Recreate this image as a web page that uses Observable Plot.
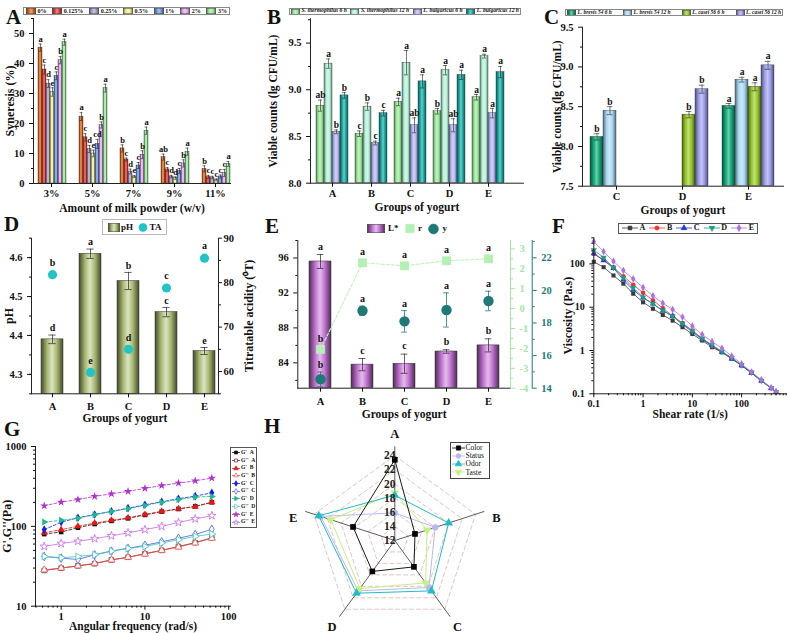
<!DOCTYPE html>
<html><head><meta charset="utf-8">
<script src="https://cdn.jsdelivr.net/npm/d3@7"></script>
<script src="https://cdn.jsdelivr.net/npm/@observablehq/plot@0.6"></script>
<style>
html,body{margin:0;padding:0;background:#fff;}
#page{position:relative;width:788px;height:633px;overflow:hidden;background:#fff;font-family:"Liberation Serif","Times New Roman",serif;color:#111;}
.plabel{position:absolute;font-weight:bold;font-size:21px;line-height:21px;font-family:"Liberation Serif","Times New Roman",serif;}
.lg{position:absolute;display:flex;align-items:center;box-sizing:border-box;white-space:nowrap;font-family:"Liberation Serif","Times New Roman",serif;font-weight:bold;color:#111;}
.lg .it{display:flex;align-items:center;}
</style></head><body><div id="page"></div>
<script>
// ================= DATA =================
// Panel A – syneresis
const aGroups = ["3%","5%","7%","9%","11%"];
const aSeries = ["0%","0.125%","0.25%","0.5%","1%","2%","3%"];
const aValues = [
  [45.3,38.0,33.3,30.5,35.9,41.1,47.1],
  [22.3,15.4,11.5,10.0,13.2,19.5,31.8],
  [11.7,8.0,4.0,2.3,6.0,9.6,17.6],
  [8.8,4.7,2.3,1.8,4.2,6.7,10.6],
  [4.9,2.2,2.0,1.2,2.3,3.5,6.5]];
const aErrors = [
  [1.2,1.5,1.3,1.4,1.3,1.2,1.0],
  [1.3,1.2,1.2,1.1,1.5,1.0,1.3],
  [1.2,0.5,0.8,0.3,1.0,1.3,1.2],
  [1.0,0.6,0.4,0.4,0.8,1.2,1.2],
  [1.0,0.5,0.4,0.3,0.5,1.2,0.8]];
const aLetters = [
  ["a","c","d","e","c","b","a"],
  ["a","c","d","e","cd","b","a"],
  ["b","c","d","e","c","b","a"],
  ["ab","c","d","d","c","b","a"],
  ["b","c","c","c","c","c","a"]];
const aTicks = [0,10,20,30,40,50];

// Panel B – viable counts
const bGroups = ["A","B","C","D","E"];
const bSeries = ["S. thermophilus 6 h","S. thermophilus 12 h","L. bulgaricus 6 h","L. bulgaricus 12 h"];
const bValues = [[8.83,9.28,8.55,8.94],[8.53,8.82,8.43,8.75],[8.87,9.29,8.62,9.09],[8.77,9.21,8.62,9.16],[8.92,9.36,8.75,9.19]];
const bErrors = [[0.06,0.05,0.02,0.03],[0.03,0.04,0.02,0.03],[0.04,0.13,0.08,0.07],[0.03,0.05,0.07,0.05],[0.03,0.02,0.05,0.06]];
const bLetters = [["ab","a","b","b"],["c","b","c","c"],["a","a","ab","a"],["b","a","ab","a"],["a","a","a","a"]];
const bTicks = [8.0,8.5,9.0,9.5];

// Panel C – viable counts of probiotics
const cGroups = ["C","D","E"];
const cSeries = ["L. brevis 54 6 h","L. brevis 54 12 h","L. casei 56 6 h","L. casei 56 12 h"];
const cValues = [[8.12,8.45,null,null],[null,null,8.40,8.72],[8.51,8.84,8.75,9.02]];
const cErrors = [[0.04,0.05,0,0],[0,0,0.04,0.05],[0.03,0.03,0.05,0.05]];
const cLetters = [["b","b","",""],["","","b","b"],["a","a","a","a"]];
const cTicks = [7.5,8.0,8.5,9.0,9.5];

// Panel D – pH and TA
const dGroups = ["A","B","C","D","E"];
const dPH = [4.39,4.61,4.54,4.46,4.36];
const dPHErr = [0.011,0.012,0.022,0.012,0.009];
const dPHLetters = ["d","a","b","c","e"];
const dTA = [81.8,59.8,65.0,78.8,85.5];
const dTALetters = ["b","e","d","c","a"];
const dTicksPH = [4.3,4.4,4.5,4.6];
const dTicksTA = [60,70,80,90];

// Panel E – colour L*, r, y
const eGroups = ["A","B","C","D","E"];
const eL = [95.6,83.8,83.9,85.3,86.0];
const eLErr = [0.8,0.7,1.1,0.2,0.75];
const eLLetters = ["a","c","c","b","b"];
const eR = [-2.05,2.3,2.15,2.4,2.5];
const eRLetters = ["b","a","a","a","a"];
const eY = [14.55,18.75,18.1,18.8,19.35];
const eYErr = [0.44,0.28,0.66,1.05,0.6];
const eYLetters = ["b","a","a","a","a"];
const eTicksL = [84,88,92,96];
const eTicksR = [-4,-3,-2,-1,0,1,2,3];
const eTicksY = [14,16,18,20,22];

// Panel F – viscosity vs shear rate
const fSeries = ["A","B","C","D","E"];
const fShear = [0.1,0.158,0.251,0.398,0.631,1,1.585,2.512,3.981,6.31,10,15.85,25.12,39.81,63.1,100,158.5,251.2,398.1,500];
const fA = [112,84,54,35,20.5,13,9.2,6.6,4.9,3.45,2.4,1.7,1.19,0.91,0.64,0.45,0.31,0.2,0.135,0.11];
const fB = [170,125,83,52,33,21.5,14.5,9.5,6.3,4.3,2.9,1.9,1.25,0.92,0.66,0.46,0.31,0.2,0.135,0.11];
const fC = [175,120,80,43,25,16.5,12,8.2,6.2,4.0,2.7,1.8,1.3,0.93,0.65,0.45,0.3,0.2,0.135,0.11];
const fD = [210,140,82,48,28,17,12,8.5,6.2,4.2,2.8,1.9,1.35,0.95,0.67,0.46,0.31,0.2,0.138,0.11];
const fE = [328,193,115,70,45,28.5,18.3,12.4,8.8,5.9,3.65,2.34,1.6,1.13,0.74,0.49,0.32,0.21,0.138,0.113];
const fTicks = [0.1,1,10,100];

// Panel G – G', G'' vs angular frequency
const gFreq = [0.628,1,1.585,2.512,3.981,6.283,10,15.85,25.12,39.81,62.83];
const gSeries = ["G' A","G'' A","G' B","G'' B","G' C","G'' C","G' D","G'' D","G' E","G'' E"];
const gValues = [
  [80,85,96,107,117,126,139,153,165,178,200],
  [28,30,32,34,38,41,45.5,50,56,62.5,72],
  [83,91,100,110,119,128,141,154,166,176,201],
  [28.5,30,32,34.5,38,41,45,50,55,62,71],
  [91,113,128,141,154,169,186,203,222,239,263],
  [42,40,38.5,44,49,53,58,64,71,79,92],
  [113,119,126,140,153,166,183,201,217,233,237],
  [42,40.5,42,44,49,53,56,62,68,75,80],
  [181,201,217,237,256,274,299,325,348,372,402],
  [56,61,65,70,76,83,91,100,112,124,136]];
const gTicksX = [1,10,100];
const gTicksY = [10,100,1000];

// Panel H – sensory radar
const hAxes = ["A","B","C","D","E"];
const hSeries = ["Color","Status","Odor","Taste"];
const hColor = [23.4,15.0,16.6,17.4,18.2];
const hStatus = [15.9,18.0,20.2,20.8,23.0];
const hOdor = [18.4,20.0,20.8,21.2,23.3];
const hTaste = [18.7,16.8,19.4,20.4,21.5];
const hTicks = [12,14,16,18,20,22,24];
const hGridLevels = [14,16,18,20,22,24];

// ================= HELPERS =================
const page = document.getElementById("page");
const FONT = '"Liberation Serif","Times New Roman",Times,serif';
const baseStyle = {fontFamily: FONT, fontSize: "10.5px", fontWeight: "bold", color: "#111", background: "transparent", overflow: "visible"};
const defs = [];
function gradient(id, color, dk = 0.5, lt = 0.45) {
  const dark = d3.interpolateRgb(color, "#000")(dk);
  const light = d3.interpolateRgb(color, "#fff")(lt);
  defs.push(`<linearGradient id="${id}" x1="0" x2="1" y1="0" y2="0"><stop offset="0" stop-color="${dark}"/><stop offset="0.28" stop-color="${color}"/><stop offset="0.5" stop-color="${light}"/><stop offset="0.72" stop-color="${color}"/><stop offset="1" stop-color="${dark}"/></linearGradient>`);
  return `url(#${id})`;
}
function dims(box, f) {
  return {width: box.width, height: box.height, marginLeft: f.x0 - box.left, marginRight: box.left + box.width - f.x1, marginTop: f.y0 - box.top, marginBottom: box.top + box.height - f.y1};
}
function layer(opts, box) {
  const svg = Plot.plot(opts);
  svg.style.position = "absolute";
  svg.style.left = box.left + "px";
  svg.style.top = box.top + "px";
  page.appendChild(svg);
  return svg;
}
function bandX(box, groups, c0, cN, barW) {
  const p = (cN - c0) / (groups.length - 1);
  const pi = 1 - barW / p;
  return {type: "band", domain: groups, range: [c0 - p/2 - box.left, cN + p/2 - box.left], paddingInner: pi, paddingOuter: pi/2};
}
const titleY = (t, dx, anchor = "left", size = 12) => Plot.text([t], {text: d => d, frameAnchor: anchor, textAnchor: "middle", lineAnchor: "middle", rotate: -90, dx, fontSize: size});
const titleX = (t, dy, size = 12) => Plot.text([t], {text: d => d, frameAnchor: "bottom", textAnchor: "middle", lineAnchor: "middle", dy, fontSize: size});
const minor = (lo, hi, step) => d3.range(lo, hi + step/2, step).map(v => +v.toFixed(4));
const logMinor = (lo, hi) => { const out = []; for (let e = -2; e <= 3; e++) for (let k = 2; k <= 9; k++) { const v = k * 10 ** e; if (v >= lo && v <= hi) out.push(v); } return out; };
const SYM = {square: d3.symbolSquare, circle: d3.symbolCircle, triangle: d3.symbolTriangle, diamond: d3.symbolDiamond, star: d3.symbolStar};
function icon(color, sym, {w = 14, h = 8, fill = color, dash = "", rot = 0, size = 14, line = true} = {}) {
  const p = d3.symbol(SYM[sym], size)();
  return `<svg width="${w}" height="${h}" style="display:block;overflow:visible">${line ? `<line x1="0" x2="${w}" y1="${h/2}" y2="${h/2}" stroke="${color}" stroke-width="0.8" ${dash ? `stroke-dasharray="${dash}"` : ""}/>` : ""}<path d="${p}" transform="translate(${w/2},${h/2}) rotate(${rot})" fill="${fill}" stroke="${color}" stroke-width="0.7"/></svg>`;
}
const swatch = (fill, w = 10, h = 6) => `<svg width="${w}" height="${h}" style="display:block"><rect x="0.25" y="0.25" width="${w-0.5}" height="${h-0.5}" fill="${fill}" stroke="#333" stroke-width="0.5"/></svg>`;
function legend(box, items, o = {}) {
  const div = document.createElement("div");
  div.className = "lg";
  Object.assign(div.style, {left: box.left + "px", top: box.top + "px", width: box.width + "px", height: box.height + "px",
    border: o.border ? `1px solid ${o.border}` : "none", justifyContent: o.justify || "space-between",
    flexDirection: o.direction || "row", alignItems: o.direction === "column" ? "flex-start" : "center",
    fontSize: (o.fontSize || 7) + "px", fontStyle: o.italic ? "italic" : "normal", fontWeight: o.weight || "bold",
    padding: o.pad || "0 2px", background: o.bg || "transparent"});
  for (const it of items) {
    const s = document.createElement("div");
    s.className = "it";
    s.innerHTML = it.icon + `<span style="margin-left:${o.gap ?? 1.5}px;line-height:1">${it.label}</span>`;
    div.appendChild(s);
  }
  page.appendChild(div);
}
function panelLabel(t, left, top) {
  const d = document.createElement("div");
  d.className = "plabel"; d.textContent = t;
  d.style.left = left + "px"; d.style.top = top + "px";
  page.appendChild(d);
}

// ================= GRADIENTS / COLOURS =================
const aColors = ["#e06818","#e83a3a","#aaa2c8","#f4f08a","#6a9ae6","#eaa8f2","#98ea98"];
const bColors = ["#98e898","#b4f2d8","#b4b4f2","#16a8a2"];
const cColors = ["#10a878","#a8d8f2","#98c828","#9c9cea"];
const aFills = aColors.map((c, i) => gradient("gA" + i, c, 0.5, 0.4));
const bFills = bColors.map((c, i) => gradient("gB" + i, c, 0.45, 0.4));
const cFills = cColors.map((c, i) => gradient("gC" + i, c, 0.5, 0.4));
const dFill = gradient("gD", "#a8b870", 0.6, 0.6);
const eFill = gradient("gE", "#c070d0", 0.6, 0.55);
const fColors = ["#3a3a3a","#ee3030","#2a3ad0","#1aa080","#b070e0"];
const fSyms = ["square","circle","triangle","triangle","diamond"];
const fRot = [0,0,0,180,0];
const gColors = ["#111111","#5a2a2a","#e81818","#e85050","#1020e8","#4a5ae8","#20b890","#40c4b4","#b030d0","#c868e6"];
const gSyms = ["square","square","triangle","triangle","diamond","diamond","triangle","triangle","star","star"];
const gRot = [0,0,0,0,0,0,90,90,0,0];
const hColors = ["#000000","#b8b8f2","#22bcc4","#c4f084"];
const hSyms = ["square","circle","triangle","triangle"];
const hRot = [0,0,0,180];
{
  const holder = document.createElementNS("http://www.w3.org/2000/svg", "svg");
  holder.setAttribute("width", 0); holder.setAttribute("height", 0);
  holder.style.position = "absolute";
  holder.innerHTML = `<defs>${defs.join("")}</defs>`;
  page.appendChild(holder);
}

// ================= GROUPED BAR PANELS (A, B, C) =================
function groupedBars(o) {
  const d = dims(o.box, o.frame);
  const n = o.groups.length;
  const p = (o.cN - o.c0) / (n - 1);
  const po = (p / o.barW - o.series.length) / 2;
  const base = o.yDomain[0];
  const inset = Math.max(0, (o.barW - o.capW) / 2);
  layer({
    ...d, style: baseStyle,
    facet: {data: o.rows, x: "group"},
    fx: {domain: o.groups, range: [o.c0 - p/2 - o.box.left, o.cN + p/2 - o.box.left], paddingInner: 0, paddingOuter: 0, axis: null},
    x: {domain: o.series, paddingInner: 0, paddingOuter: po, axis: null},
    y: {domain: o.yDomain, axis: null},
    color: {type: "identity"},
    marks: [
      Plot.barY(o.rows, {x: "series", y1: () => base, y2: "value", fill: r => o.fills[o.series.indexOf(r.series)], stroke: "#333", strokeWidth: 0.4}),
      Plot.ruleX(o.rows, {x: "series", y1: r => r.value - r.err, y2: r => r.value + r.err, stroke: "#222", strokeWidth: 0.6}),
      Plot.tickY(o.rows, {x: "series", y: r => r.value + r.err, insetLeft: inset, insetRight: inset, stroke: "#222", strokeWidth: 0.6}),
      Plot.tickY(o.rows, {x: "series", y: r => r.value - r.err, insetLeft: inset, insetRight: inset, stroke: "#222", strokeWidth: 0.6}),
      Plot.text(o.rows, {x: "series", y: r => r.value + r.err, text: "letter", dy: -5, fontSize: o.letterSize})
    ]
  }, o.box);
  layer({
    ...d, style: baseStyle,
    x: {type: "point", domain: o.groups, range: [o.c0 - o.box.left, o.cN - o.box.left], padding: 0},
    y: {domain: o.yDomain},
    marks: [
      Plot.frame({anchor: "left", stroke: "#222"}),
      Plot.frame({anchor: "bottom", stroke: "#222"}),
      Plot.axisY({ticks: o.yTicks, tickFormat: o.yFormat, tickSize: 4, label: null}),
      Plot.axisY({ticks: o.yMinor, tickFormat: () => "", tickSize: 2, label: null}),
      Plot.axisX({tickSize: 4, tickPadding: 2, label: null}),
      titleY(o.yTitle, o.yTitleDx, "left", o.yTitleSize || 12),
      titleX(o.xTitle, o.xTitleDy, 11.5)
    ]
  }, o.box);
}

const aRows = aGroups.flatMap((g, i) => aSeries.map((s, j) => ({group: g, series: s, value: aValues[i][j], err: aErrors[i][j], letter: aLetters[i][j]})));
groupedBars({box: {left: 0, top: 0, width: 245, height: 215}, frame: {x0: 33, x1: 230, y0: 18, y1: 183},
  groups: aGroups, series: aSeries, rows: aRows, fills: aFills, yDomain: [0, 55], c0: 51, cN: 215, barW: 4.5, capW: 3.5,
  yTicks: aTicks, yMinor: minor(5, 55, 10), yFormat: d => String(d), yTitle: "Syneresis (%)", yTitleDx: -23,
  xTitle: "Amount of milk powder (w/v)", xTitleDy: 25, letterSize: 8.5});

const bRows = bGroups.flatMap((g, i) => bSeries.map((s, j) => ({group: g, series: s, value: bValues[i][j], err: bErrors[i][j], letter: bLetters[i][j]})));
groupedBars({box: {left: 262, top: 0, width: 266, height: 215}, frame: {x0: 310, x1: 523, y0: 18.3, y1: 182.7},
  groups: bGroups, series: bSeries, rows: bRows, fills: bFills, yDomain: [8, 9.76], c0: 330.7, cN: 488.3, barW: 8.75, capW: 5,
  yTicks: bTicks, yMinor: minor(8.25, 9.75, 0.5), yFormat: ".1f", yTitle: "Viable counts (lg CFU/mL)", yTitleDx: -37, yTitleSize: 11.5,
  xTitle: "Groups of yogurt", xTitleDy: 24.5, letterSize: 9.5});

const cRows = cGroups.flatMap((g, i) => cSeries.map((s, j) => ({group: g, series: s, value: cValues[i][j], err: cErrors[i][j], letter: cLetters[i][j]}))).filter(r => r.value != null);
groupedBars({box: {left: 528, top: 0, width: 260, height: 215}, frame: {x0: 582, x1: 783, y0: 26.7, y1: 185.7},
  groups: cGroups, series: cSeries, rows: cRows, fills: cFills, yDomain: [7.5, 9.5], c0: 615.7, cN: 748.3, barW: 13.3, capW: 6,
  yTicks: cTicks, yMinor: minor(7.75, 9.25, 0.5), yFormat: ".1f", yTitle: "Viable counts (lg CFU/mL)", yTitleDx: -25, yTitleSize: 11.5,
  xTitle: "Groups of yogurt", xTitleDy: 24, letterSize: 9.5});

legend({left: 23, top: 6.5, width: 207, height: 8}, aSeries.map((s, i) => ({label: s, icon: swatch(aFills[i], 10, 6)})), {border: "#888", fontSize: 6});
legend({left: 289, top: 7.5, width: 232, height: 7.5}, bSeries.map((s, i) => ({label: s, icon: swatch(bFills[i], 9, 5.5)})), {border: "#888", fontSize: 5.6, italic: true, pad: "0 1px"});
legend({left: 565, top: 8.5, width: 218, height: 7.5}, cSeries.map((s, i) => ({label: s, icon: swatch(cFills[i], 9, 5.5)})), {border: "#888", fontSize: 5.4, italic: true, pad: "0 1px"});

// ================= PANEL D =================
{
  const box = {left: 0, top: 205, width: 262, height: 222};
  const frame = {x0: 31, x1: 218, y0: 237.7, y1: 393.3};
  const d = dims(box, frame);
  const x = bandX(box, dGroups, 50.7, 204, 21.7);
  const rows = dGroups.map((g, i) => ({group: g, ph: dPH[i], err: dPHErr[i], phL: dPHLetters[i], ta: dTA[i], taL: dTALetters[i]}));
  const inset = (21.7 - 7) / 2;
  const dom = [4.25, 4.65];
  layer({...d, style: baseStyle, x, y: {domain: dom}, marks: [
    Plot.barY(rows, {x: "group", y1: () => dom[0], y2: "ph", fill: dFill, stroke: "#333", strokeWidth: 0.5}),
    Plot.ruleX(rows, {x: "group", y1: r => r.ph - r.err, y2: r => r.ph + r.err, stroke: "#222", strokeWidth: 0.7}),
    Plot.tickY(rows, {x: "group", y: r => r.ph + r.err, insetLeft: inset, insetRight: inset, stroke: "#222", strokeWidth: 0.7}),
    Plot.tickY(rows, {x: "group", y: r => r.ph - r.err, insetLeft: inset, insetRight: inset, stroke: "#222", strokeWidth: 0.7}),
    Plot.text(rows, {x: "group", y: r => r.ph + r.err, text: "phL", dy: -7, fontSize: 10}),
    Plot.frame({anchor: "left", stroke: "#222"}),
    Plot.frame({anchor: "bottom", stroke: "#222"}),
    Plot.axisY({ticks: dTicksPH, tickFormat: ".1f", tickSize: 4, label: null}),
    Plot.axisY({ticks: minor(4.25, 4.65, 0.05), tickFormat: () => "", tickSize: 2, label: null}),
    Plot.axisX({tickSize: 4, label: null}),
    titleY("pH", -22),
    titleX("Groups of yogurt", 25, 11.5)
  ]}, box);
  layer({...d, style: baseStyle, x: {...x, axis: null}, y: {domain: [55, 90]}, marks: [
    Plot.dot(rows, {x: "group", y: "ta", r: 4.6, fill: "#22c4c4"}),
    Plot.text(rows, {x: "group", y: "ta", text: "taL", dy: -12, fontSize: 10}),
    Plot.frame({anchor: "right", stroke: "#222"}),
    Plot.axisY({anchor: "right", ticks: dTicksTA, tickSize: 3, tickPadding: 2, label: null}),
    Plot.axisY({anchor: "right", ticks: minor(55, 85, 10), tickFormat: () => "", tickSize: 2, label: null}),
    titleY("Titratable acidity (⁰T)", 30.5, "right")
  ]}, box);
  legend({left: 102, top: 219, width: 65, height: 16}, [
    {label: "pH", icon: swatch(dFill, 12, 9)},
    {label: "TA", icon: icon("#22c4c4", "circle", {line: false, w: 10, h: 9, size: 50})}
  ], {border: "#bbb", fontSize: 9, justify: "space-around"});
}

// ================= PANEL E =================
{
  const box = {left: 262, top: 205, width: 278, height: 222};
  const frame = {x0: 297.3, x1: 510, y0: 240, y1: 387.7};
  const d = dims(box, frame);
  const x = bandX(box, eGroups, 319, 488.3, 22.3);
  const rows = eGroups.map((g, i) => ({group: g, L: eL[i], Lerr: eLErr[i], LL: eLLetters[i], r: eR[i], rL: eRLetters[i], y: eY[i], yerr: eYErr[i], yL: eYLetters[i]}));
  const inset = (22.3 - 7) / 2;
  const domL = [81.1, 98];
  layer({...d, style: baseStyle, x, y: {domain: domL}, marks: [
    Plot.barY(rows, {x: "group", y1: () => domL[0], y2: "L", fill: eFill, stroke: "#333", strokeWidth: 0.5}),
    Plot.ruleX(rows, {x: "group", y1: r => r.L - r.Lerr, y2: r => r.L + r.Lerr, stroke: "#222", strokeWidth: 0.7}),
    Plot.tickY(rows, {x: "group", y: r => r.L + r.Lerr, insetLeft: inset, insetRight: inset, stroke: "#222", strokeWidth: 0.7}),
    Plot.tickY(rows, {x: "group", y: r => r.L - r.Lerr, insetLeft: inset, insetRight: inset, stroke: "#222", strokeWidth: 0.7}),
    Plot.text(rows, {x: "group", y: r => r.L + r.Lerr, text: "LL", dy: -8, fontSize: 10}),
    Plot.frame({anchor: "left", stroke: "#222"}),
    Plot.frame({anchor: "bottom", stroke: "#222"}),
    Plot.axisY({ticks: eTicksL, tickSize: 4, label: null}),
    Plot.axisY({ticks: minor(82, 98, 2).filter(v => v % 4), tickFormat: () => "", tickSize: 2, label: null}),
    Plot.axisX({tickSize: 4, label: null}),
    titleX("Groups of yogurt", 26, 11.5)
  ]}, box);
  const rCol = "#a6e6a6";
  layer({...d, style: baseStyle, x: {...x, axis: null}, y: {domain: [-4, 3.42]}, marks: [
    Plot.line(rows, {x: "group", y: "r", stroke: "#c4f2c4", strokeWidth: 1.2, strokeDasharray: "3,2"}),
    Plot.dot(rows, {x: "group", y: "r", symbol: "square", r: 5, fill: "#b4f0b4"}),
    Plot.text(rows, {x: "group", y: "r", text: "rL", dy: -11, fontSize: 10}),
    Plot.frame({anchor: "right", stroke: rCol}),
    Plot.axisY({anchor: "right", ticks: eTicksR, tickFormat: d => String(d), tickSize: 4, color: rCol, label: null}),
    Plot.axisY({anchor: "right", ticks: minor(-3.5, 3, 0.5).filter(v => v % 1), tickFormat: () => "", tickSize: 2, color: rCol, label: null})
  ]}, box);
  const yCol = "#1e7a76";
  const yInset = (22.3 - 6) / 2;
  layer({...dims(box, {...frame, x1: 531.7}), style: baseStyle, x: {...x, axis: null}, y: {domain: [14, 23.06]}, marks: [
    Plot.ruleX(rows, {x: "group", y1: r => r.y - r.yerr, y2: r => r.y + r.yerr, stroke: yCol, strokeWidth: 0.8}),
    Plot.tickY(rows, {x: "group", y: r => r.y + r.yerr, insetLeft: yInset, insetRight: yInset, stroke: yCol, strokeWidth: 0.8}),
    Plot.tickY(rows, {x: "group", y: r => r.y - r.yerr, insetLeft: yInset, insetRight: yInset, stroke: yCol, strokeWidth: 0.8}),
    Plot.dot(rows, {x: "group", y: "y", r: 5.2, fill: yCol}),
    Plot.text(rows, {x: "group", y: r => r.y + r.yerr, text: "yL", dy: -7, fontSize: 10}),
    Plot.frame({anchor: "right", stroke: yCol}),
    Plot.axisY({anchor: "right", ticks: eTicksY, tickSize: 4, color: yCol, label: null}),
    Plot.axisY({anchor: "right", ticks: minor(15, 23, 2), tickFormat: () => "", tickSize: 2, color: yCol, label: null})
  ]}, box);
  legend({left: 365, top: 223, width: 84, height: 11}, [
    {label: "L*", icon: swatch(eFill, 18, 9)},
    {label: "r", icon: icon("#b4f0b4", "square", {line: false, w: 10, h: 9, size: 70, fill: "#b4f0b4"})},
    {label: "y", icon: icon(yCol, "circle", {line: false, w: 11, h: 10, size: 75})}
  ], {fontSize: 9, justify: "space-between", gap: 3});
}

// ================= PANEL F =================
{
  const box = {left: 540, top: 205, width: 248, height: 222};
  const frame = {x0: 593.3, x1: 786, y0: 237, y1: 393.3};
  const fVals = [fA, fB, fC, fD, fE];
  const rows = fSeries.flatMap((s, k) => fShear.map((x, i) => ({series: s, shear: x, visc: fVals[k][i]})));
  const marks = [];
  fSeries.forEach((s, k) => {
    const data = rows.filter(r => r.series === s);
    marks.push(Plot.line(data, {x: "shear", y: "visc", stroke: fColors[k], strokeWidth: 0.8}));
    marks.push(Plot.dot(data, {x: "shear", y: "visc", symbol: fSyms[k], rotate: fRot[k], r: 2.3, fill: fColors[k]}));
  });
  layer({...dims(box, frame), style: baseStyle, x: {type: "log", domain: [0.1, 815]}, y: {type: "log", domain: [0.1, 407]}, marks: [
    ...marks,
    Plot.frame({anchor: "left", stroke: "#222"}),
    Plot.frame({anchor: "bottom", stroke: "#222"}),
    Plot.axisY({ticks: fTicks, tickFormat: d => String(d), tickSize: 4, label: null, fontSize: 10}),
    Plot.axisY({ticks: logMinor(0.1, 407), tickFormat: () => "", tickSize: 2, label: null}),
    Plot.axisX({ticks: fTicks, tickFormat: d => String(d), tickSize: 4, tickPadding: 2, label: null, fontSize: 10}),
    Plot.axisX({ticks: logMinor(0.1, 815), tickFormat: () => "", tickSize: 2, label: null}),
    titleY("Viscosity (Pa.s)", -26),
    titleX("Shear rate (1/s)", 20.5, 11.5)
  ]}, box);
  legend({left: 618, top: 222.5, width: 140, height: 11}, fSeries.map((s, k) => ({label: s, icon: icon(fColors[k], fSyms[k], {w: 16, h: 8, size: 14, rot: fRot[k]})})), {border: "#555", fontSize: 8, pad: "0 3px"});
}

// ================= PANEL G =================
{
  const box = {left: 0, top: 410, width: 262, height: 223};
  const frame = {x0: 35, x1: 230, y0: 446, y1: 605.7};
  const rows = gSeries.flatMap((s, k) => gFreq.map((x, i) => ({series: s, freq: x, mod: gValues[k][i]})));
  const marks = [];
  const order = [1, 3, 5, 7, 9, 0, 2, 4, 6, 8];
  order.forEach(k => {
    const data = rows.filter(r => r.series === gSeries[k]);
    const storage = k % 2 === 0;
    marks.push(Plot.line(data, {x: "freq", y: "mod", stroke: gColors[k], strokeWidth: 0.8, strokeDasharray: storage ? "3,2" : null}));
    marks.push(Plot.dot(data, {x: "freq", y: "mod", symbol: gSyms[k], rotate: gRot[k], r: 2.6, fill: storage ? gColors[k] : "white", stroke: storage ? "none" : gColors[k], strokeWidth: 0.8}));
  });
  layer({...dims(box, frame), style: baseStyle, x: {type: "log", domain: [0.494, 105]}, y: {type: "log", domain: [10, 1000]}, marks: [
    ...marks,
    Plot.frame({anchor: "left", stroke: "#222"}),
    Plot.frame({anchor: "bottom", stroke: "#222"}),
    Plot.axisY({ticks: gTicksY, tickFormat: d => String(d), tickSize: 4, label: null}),
    Plot.axisY({ticks: logMinor(10, 1000), tickFormat: () => "", tickSize: 2, label: null}),
    Plot.axisX({ticks: gTicksX, tickFormat: d => String(d), tickSize: 4, tickPadding: 2, label: null}),
    Plot.axisX({ticks: logMinor(0.494, 105), tickFormat: () => "", tickSize: 2, label: null}),
    titleY("G',G''(Pa)", -28),
    titleX("Angular frequency (rad/s)", 20.5, 11.5)
  ]}, box);
  legend({left: 230, top: 447, width: 27, height: 81}, gSeries.map((s, k) => ({label: s.replace(" ", "&nbsp;&nbsp;"), icon: icon(gColors[k], gSyms[k], {w: 8, h: 7, size: 9, rot: gRot[k], fill: k % 2 === 0 ? gColors[k] : "white"})})), {border: "#555", fontSize: 5.6, direction: "column", justify: "space-around", pad: "1px 1px", gap: 1, bg: "#fff"});
}

// ================= PANEL H =================
{
  const box = {left: 262, top: 410, width: 262, height: 223};
  const cx = 394.3, cy = 540, unit = 7.08, rMin = 12, rMax = 25.3, lab = 27.1;
  const ang = i => i * 2 * Math.PI / 5;
  const polar = (v, i) => [(v - rMin) * Math.sin(ang(i)), (v - rMin) * Math.cos(ang(i))];
  const hVals = [hColor, hStatus, hOdor, hTaste];
  const rows = hSeries.flatMap((s, k) => d3.range(6).map(j => { const i = j % 5; const [x, y] = polar(hVals[k][i], i); return {series: s, axis: hAxes[i], value: hVals[k][i], x, y, first: j < 5}; }));
  const grid = hGridLevels.flatMap(v => d3.range(6).map(j => { const [x, y] = polar(v, j % 5); return {level: v, x, y}; }));
  const spokes = hAxes.map((a, i) => { const [x, y] = polar(rMax, i); return {axis: a, x, y}; });
  const labels = hAxes.map((a, i) => { const [x, y] = polar(lab, i); return {axis: a, x, y, side: i === 1 || i === 4}; });
  const marks = [
    Plot.line(grid, {x: "x", y: "y", z: "level", stroke: "#dcb4b4", strokeWidth: 0.8, strokeDasharray: "4,3"}),
    Plot.link(spokes, {x1: () => 0, y1: () => 0, x2: "x", y2: "y", stroke: "#333", strokeWidth: 0.8})
  ];
  [1, 3, 2, 0].forEach(k => {
    const data = rows.filter(r => r.series === hSeries[k]);
    marks.push(Plot.line(data, {x: "x", y: "y", stroke: hColors[k], strokeWidth: k === 0 ? 0.9 : 1}));
    marks.push(Plot.dot(data.filter(r => r.first), {x: "x", y: "y", symbol: hSyms[k], rotate: hRot[k], r: 3.2, fill: hColors[k]}));
  });
  marks.push(Plot.text(hTicks, {x: () => 0, y: v => v - rMin, text: d => String(d), dx: -5, fontSize: 11.5, fill: "#222"}));
  marks.push(Plot.text(labels.filter(l => !l.side), {x: "x", y: "y", text: "axis", fontSize: 12.5}));
  marks.push(Plot.text(labels.filter(l => l.side), {x: "x", y: "y", text: "axis", dy: 11, fontSize: 12.5}));
  layer({width: box.width, height: box.height, margin: 0, style: baseStyle,
    x: {domain: [-14, 14], range: [cx - box.left - 14 * unit, cx - box.left + 14 * unit], axis: null},
    y: {domain: [-14, 14], range: [cy - box.top + 14 * unit, cy - box.top - 14 * unit], axis: null},
    marks}, box);
  legend({left: 450, top: 441.5, width: 39.5, height: 37}, hSeries.map((s, k) => ({label: s, icon: icon(hColors[k], hSyms[k], {w: 13, h: 8, size: 18, rot: hRot[k]})})), {border: "#444", fontSize: 7.5, direction: "column", justify: "space-around", pad: "1px 1px", gap: 0.5, bg: "#fff", weight: "normal"});
}

// ================= PANEL LETTERS =================
panelLabel("A", 6, 7);
panelLabel("B", 267, 7);
panelLabel("C", 544, 7);
panelLabel("D", 4, 214);
panelLabel("E", 265, 216);
panelLabel("F", 552, 216);
panelLabel("G", 4, 419);
panelLabel("H", 264, 416);
</script></body></html>
